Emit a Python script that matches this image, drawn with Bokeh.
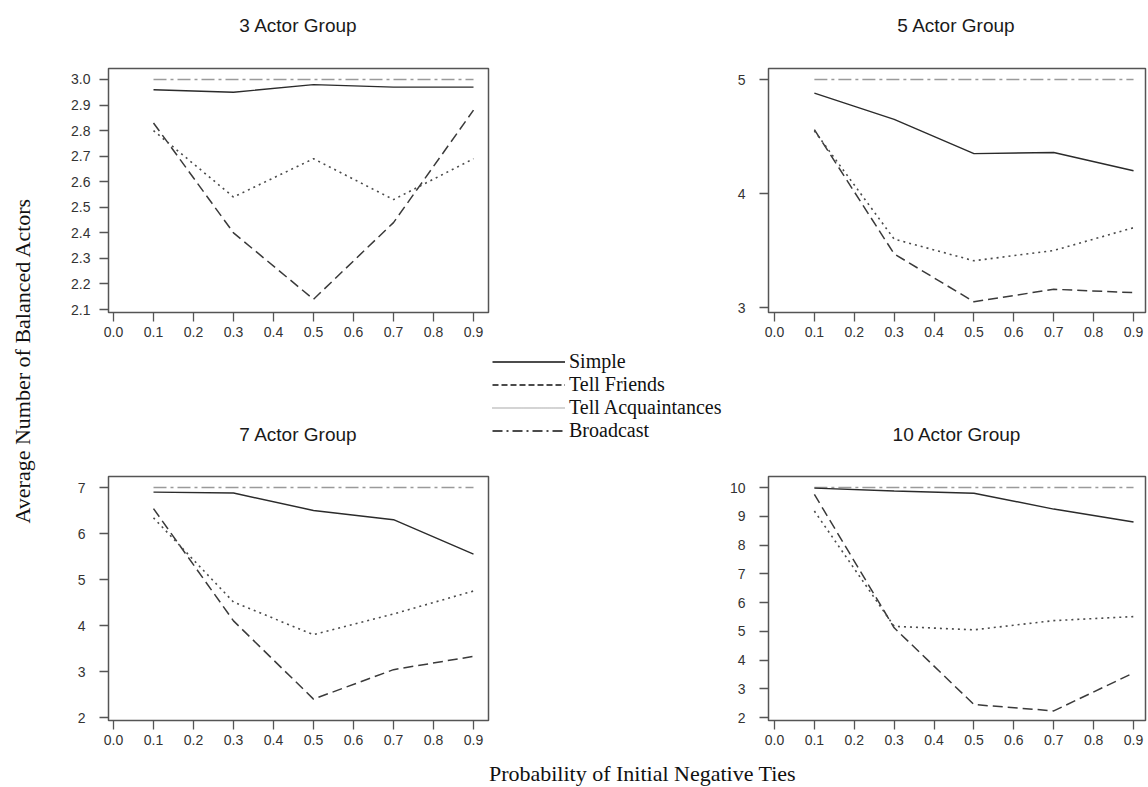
import numpy as np
from bokeh.plotting import figure
from bokeh.models import Range1d, FixedTicker, PrintfTickFormatter, Label, Legend, LegendItem
from bokeh.layouts import row, column
from bokeh.embed import file_html
from bokeh.resources import INLINE

# ---------------- data ----------------
probs = [0.1, 0.3, 0.5, 0.7, 0.9]
x_ticks = [0.0, 0.1, 0.2, 0.3, 0.4, 0.5, 0.6, 0.7, 0.8, 0.9]
series_names = ["Simple", "Tell Friends", "Tell Acquaintances", "Broadcast"]
titles = ["3 Actor Group", "5 Actor Group", "7 Actor Group", "10 Actor Group"]

g3_simple = [2.96, 2.95, 2.98, 2.97, 2.97]
g3_friends = [2.83, 2.40, 2.14, 2.44, 2.88]
g3_acq = [2.80, 2.54, 2.69, 2.53, 2.69]
g3_broadcast = [3.0, 3.0, 3.0, 3.0, 3.0]

g5_simple = [4.88, 4.65, 4.35, 4.36, 4.20]
g5_friends = [4.56, 3.47, 3.05, 3.16, 3.13]
g5_acq = [4.55, 3.60, 3.41, 3.50, 3.70]
g5_broadcast = [5.0, 5.0, 5.0, 5.0, 5.0]

g7_simple = [6.90, 6.88, 6.50, 6.30, 5.55]
g7_friends = [6.54, 4.10, 2.40, 3.04, 3.33]
g7_acq = [6.34, 4.51, 3.80, 4.25, 4.75]
g7_broadcast = [7.0, 7.0, 7.0, 7.0, 7.0]

g10_simple = [9.98, 9.88, 9.80, 9.25, 8.80]
g10_friends = [9.76, 5.12, 2.45, 2.23, 3.55]
g10_acq = [9.18, 5.17, 5.05, 5.37, 5.51]
g10_broadcast = [10.0, 10.0, 10.0, 10.0, 10.0]

y_ticks_3 = [2.1, 2.2, 2.3, 2.4, 2.5, 2.6, 2.7, 2.8, 2.9, 3.0]
y_ticks_5 = [3, 4, 5]
y_ticks_7 = [2, 3, 4, 5, 6, 7]
y_ticks_10 = [2, 3, 4, 5, 6, 7, 8, 9, 10]

x_title = "Probability of Initial Negative Ties"
y_title = "Average Number of Balanced Actors"

# ---------------- styles ----------------
STYLES = [
    dict(line_color="#2b2b2b", line_width=1.4, line_dash="solid"),
    dict(line_color="#3a3a3a", line_width=1.5, line_dash="10 5"),
    dict(line_color="#4a4a4a", line_width=1.6, line_dash="2 4"),
    dict(line_color="#9a9a9a", line_width=1.5, line_dash="13 4 3 4"),
]
SANS = "Liberation Sans"
SERIF = "Liberation Serif"


def panel(series, y_rng, y_ticks, y_fmt, x_rng, width, height,
          b_left, b_right, b_top, b_bottom, y_standoff):
    p = figure(width=width, height=height, x_range=Range1d(*x_rng), y_range=Range1d(*y_rng),
               toolbar_location=None, output_backend="svg", title=None,
               min_border_left=b_left, min_border_right=b_right,
               min_border_top=b_top, min_border_bottom=b_bottom)
    p.grid.visible = False
    p.outline_line_color = "#555555"
    p.outline_line_width = 1.5
    p.background_fill_color = "white"
    p.border_fill_color = "white"
    for ax in (p.xaxis[0], p.yaxis[0]):
        ax.axis_line_color = None
        ax.major_tick_in = 0
        ax.major_tick_out = 9
        ax.major_tick_line_color = "#555555"
        ax.major_tick_line_width = 1.3
        ax.minor_tick_line_color = None
        ax.major_label_text_font = SANS
        ax.major_label_text_font_size = "14px"
        ax.major_label_text_color = "#333333"
    p.xaxis.ticker = FixedTicker(ticks=x_ticks)
    p.xaxis.formatter = PrintfTickFormatter(format="%.1f")
    p.xaxis.major_label_standoff = 5
    p.yaxis.ticker = FixedTicker(ticks=y_ticks)
    p.yaxis.formatter = PrintfTickFormatter(format=y_fmt)
    p.yaxis.major_label_standoff = y_standoff
    order = [3, 0, 1, 2]  # broadcast behind the others
    for i in order:
        p.line(probs, series[i], **STYLES[i])
    return p


def yr(top_val, bot_val, px_per_unit, top_gap=11, bot_gap=3):
    return (bot_val - bot_gap / px_per_unit, top_val + top_gap / px_per_unit)


def blank(w, h, x_rng=None):
    f = figure(width=w, height=h, x_range=Range1d(*(x_rng or (0, w))), y_range=Range1d(0, h),
               toolbar_location=None, output_backend="svg", title=None,
               x_axis_location=None, y_axis_location=None, min_border=0)
    f.grid.visible = False
    f.outline_line_color = None
    return f


def title_label(x, y, text):
    return Label(x=x, y=y, text=text, text_align="center", text_baseline="middle",
                 text_font=SANS, text_font_size="19px", text_color="#1a1a1a")


# layout geometry (page pixels; page has no margin)
W_YLAB, W_L, W_MID, W_R = 46, 444, 236, 422
W_ALL = W_YLAB + W_L + W_MID + W_R
H_TTL = 48          # strip with the two upper titles
H_TOP = 302         # upper panels
H_MIDTTL = 106      # strip with the two lower titles
H_BOT = 298         # lower panels
H_XLAB = 33
H_BODY = H_TOP + H_MIDTTL + H_BOT
XR_L = (-0.0125, 0.9375)
XR_R = (-0.015, 0.93)

p1 = panel([g3_simple, g3_friends, g3_acq, g3_broadcast],
           yr(3.0, 2.1, 255.56), y_ticks_3, "%.1f", XR_L, W_L, H_TOP, 62, 2, 20, 38, 9)
p2 = panel([g5_simple, g5_friends, g5_acq, g5_broadcast],
           yr(5, 3, 114, 11, 5), y_ticks_5, "%d", XR_R, W_R, H_TOP, 41, 3, 20, 38, 14)
p3 = panel([g7_simple, g7_friends, g7_acq, g7_broadcast],
           yr(7, 2, 46), y_ticks_7, "%d", XR_L, W_L, H_BOT, 62, 2, 20, 34, 14)
p4 = panel([g10_simple, g10_friends, g10_acq, g10_broadcast],
           yr(10, 2, 28.75), y_ticks_10, "%d", XR_R, W_R, H_BOT, 41, 3, 20, 34, 14)

# title strips
top_ttl = blank(W_ALL, H_TTL)
top_ttl.add_layout(title_label(298, H_TTL - 25, titles[0]))
top_ttl.add_layout(title_label(956, H_TTL - 25, titles[1]))

# lower title strips share the panel x-ranges (their frames align with the panels below)
ttl3 = blank(W_L, H_MIDTTL, XR_L)
ttl3.add_layout(title_label(sum(XR_L) / 2, H_MIDTTL - 84, titles[2]))
ttl4 = blank(W_R, H_MIDTTL, XR_R)
ttl4.add_layout(title_label(sum(XR_R) / 2, H_MIDTTL - 84, titles[3]))

# legend column between the two panel columns
mid = blank(W_MID, H_BODY)
leg_styles = [
    dict(line_color="#111111", line_width=1.6),
    dict(line_color="#111111", line_width=1.6, line_dash="6 3"),
    dict(line_color="#555555", line_width=1.2, line_dash="1 1"),
    dict(line_color="#111111", line_width=1.6, line_dash="10 4 2 4"),
]
items = []
for name, st in zip(series_names, leg_styles):
    r = mid.line([np.nan, np.nan], [np.nan, np.nan], **st)
    items.append(LegendItem(label=name, renderers=[r]))
legend = Legend(items=items, location=(2, H_BODY - (442 - H_TTL)), orientation="vertical",
                glyph_width=73, glyph_height=23, label_height=23, label_standoff=4, spacing=0,
                padding=0, margin=0, border_line_alpha=0, background_fill_alpha=0,
                label_text_font=SERIF, label_text_font_size="20px", label_text_color="#111111")
mid.add_layout(legend)

# shared y-axis title
ylab = blank(W_YLAB, H_BODY)
ylab.add_layout(Label(x=22, y=H_BODY - (360 - H_TTL), text=y_title, angle=np.pi / 2,
                      text_align="center", text_baseline="middle",
                      text_font=SERIF, text_font_size="22px", text_color="#111111"))

# shared x-axis title
xlab = blank(W_ALL, H_XLAB)
xlab.add_layout(Label(x=642, y=H_XLAB - 19, text=x_title, text_align="center", text_baseline="middle",
                      text_font=SERIF, text_font_size="22px", text_color="#111111"))

body = row(ylab, column(p1, ttl3, p3), mid, column(p2, ttl4, p4))
page = column(top_ttl, body, xlab)

open("out.html", "w").write(file_html(page, INLINE))
